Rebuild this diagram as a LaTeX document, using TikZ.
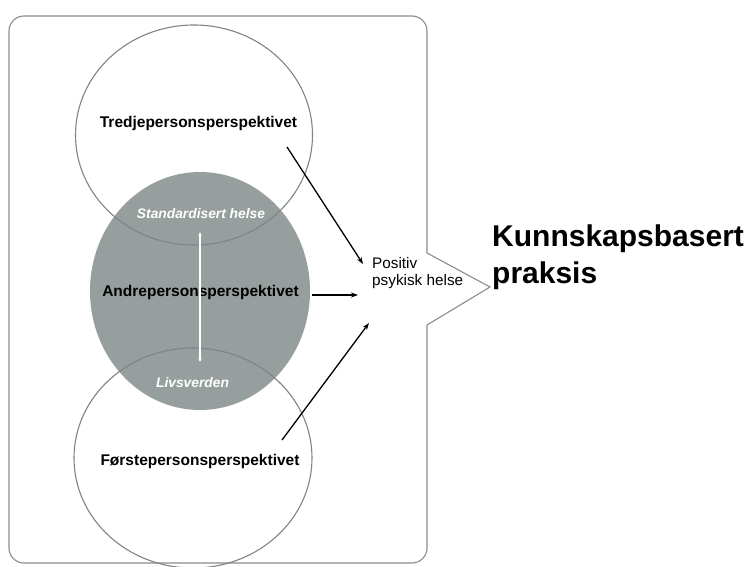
\documentclass[tikz,border=0pt]{standalone}
\usepackage{fontspec}
\setmainfont{Liberation Sans}
\usetikzlibrary{shapes.geometric,arrows.meta}
\definecolor{boxgrey}{RGB}{140,140,140}
\definecolor{circgrey}{RGB}{128,132,134}
\definecolor{fillgrey}{RGB}{150,158,158}
\tikzset{
  boxline/.style={draw=boxgrey,line width=1.1pt},
  circ/.style={ellipse,draw=circgrey,line width=1.1pt,inner sep=0pt},
  greycirc/.style={ellipse,fill=fillgrey,draw=none,inner sep=0pt},
  lbl/.style={font=\fontsize{15.5}{18}\selectfont\bfseries,inner sep=0pt},
  wlbl/.style={font=\fontsize{13.8}{16}\selectfont\bfseries\itshape,text=white,inner sep=0pt},
  conn/.style={draw=black,line width=1.3pt,-{Stealth[length=7pt,width=5pt]}},
  wconn/.style={draw=white,line width=1.1pt,{Stealth[length=4pt,width=3.5pt]}-{Stealth[length=4pt,width=3.5pt]}}
}
\begin{document}
\begin{tikzpicture}[x=1pt,y=-1pt]
\useasboundingbox (0,0) rectangle (749,567);
\fill[white] (0,0) rectangle (749,567);
% outer box with notch
\draw[boxline,rounded corners=15pt] (427,325) -- (427,563) -- (9,563) -- (9,16) -- (427,16) -- (427,253);
\draw[boxline,line join=miter] (427,253) -- (490,287) -- (427,325);
% circles
\node[greycirc,minimum width=220pt,minimum height=238pt] (second) at (200,291) {};
\node[circ,minimum width=237pt,minimum height=220pt] (third) at (194,135) {};
\node[circ,minimum width=238pt,minimum height=220pt] (first) at (193,458) {};
% labels
\node[lbl,anchor=base] (tt) at (198.5,128) {Tredjepersonsperspektivet};
\node[wlbl,anchor=base] (std) at (201,218) {Standardisert helse};
\node[lbl,anchor=base] (at) at (200.5,296) {Andrepersonsperspektivet};
\node[wlbl,anchor=base] (liv) at (192.5,387) {Livsverden};
\node[lbl,anchor=base] (ft) at (200,465) {Førstepersonsperspektivet};
\node[anchor=base west,inner sep=0pt,align=left,font=\fontsize{15.3}{17}\selectfont] (pos) at (372,285) {Positiv\\psykisk helse};
\node[anchor=base west,inner sep=0pt,align=left,font=\fontsize{30}{37}\selectfont\bfseries] (kb) at (492,283) {Kunnskapsbasert\\praksis};
% connectors
\coordinate (a1) at (287,147);
\coordinate (b1) at (363,264);
\coordinate (a2) at (312,295);
\coordinate (b2) at (358,295);
\coordinate (a3) at (282,440);
\coordinate (b3) at (369,323);
\coordinate (w1) at (200,232);
\coordinate (w2) at (200,362);
\draw[conn] (a1) -- (b1);
\draw[conn] (a2) -- (b2);
\draw[conn] (a3) -- (b3);
\draw[wconn] (w1) -- (w2);
\end{tikzpicture}
\end{document}
